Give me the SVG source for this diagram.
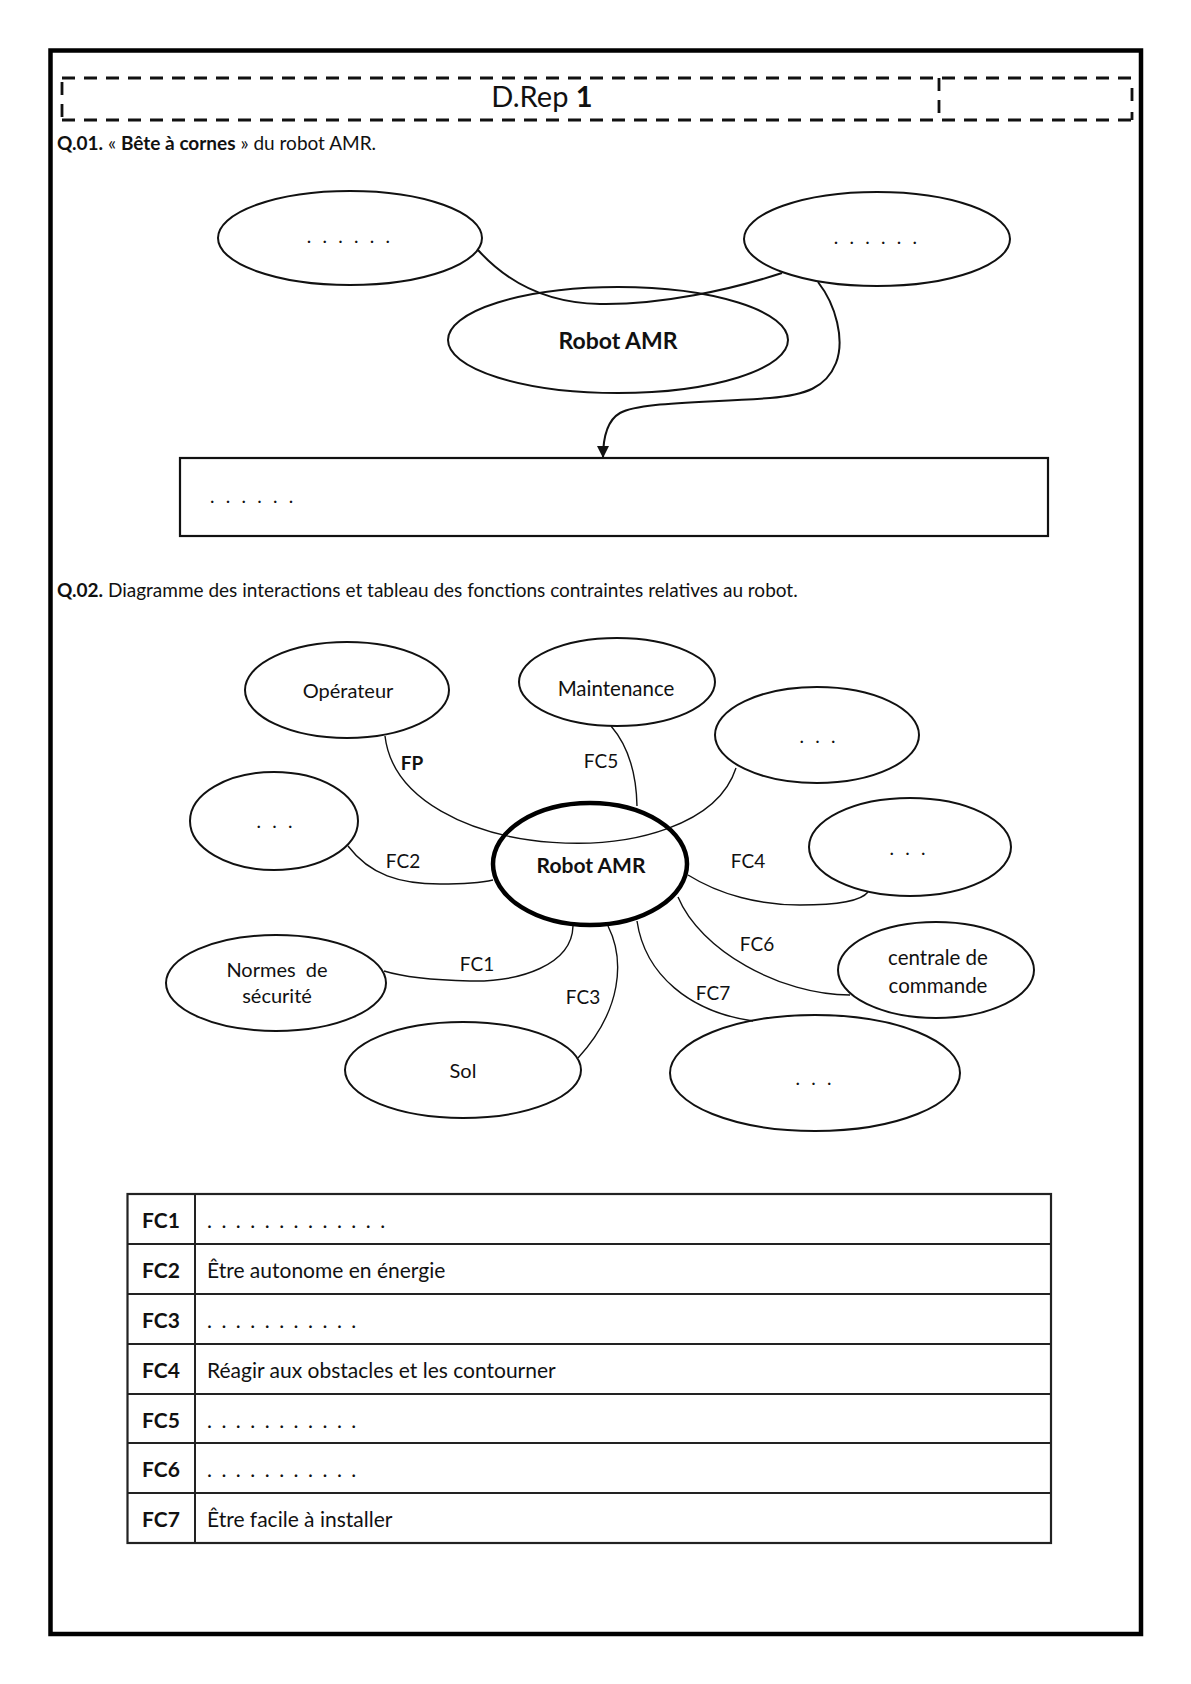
<svg xmlns="http://www.w3.org/2000/svg" width="1191" height="1684" viewBox="0 0 1191 1684">
<defs>
<style>
.t{font-family:Lato,"Open Sans","Liberation Sans",sans-serif;fill:#111}
.b{font-weight:bold}
.m{text-anchor:middle}
.e{fill:none;stroke:#111;stroke-width:2}
.c{fill:none;stroke:#111;stroke-width:1.4}
.c1{fill:none;stroke:#111;stroke-width:2}
.d{fill:none;stroke:#111;stroke-width:2.8;stroke-dasharray:13 9}
.g{fill:none;stroke:#222;stroke-width:2}
</style>
<marker id="ah" viewBox="0 0 12 12" refX="12" refY="6" markerWidth="12" markerHeight="12" markerUnits="userSpaceOnUse" orient="auto">
<path d="M0,0 L12,6 L0,12 Z" fill="#111"/>
</marker>
</defs>
<rect width="1191" height="1684" fill="#fff"/>
<rect x="50.5" y="50.5" width="1090.5" height="1583.5" fill="none" stroke="#000" stroke-width="4.5"/>

<g id="header">
<path class="d" d="M62,78 H1132 M62,120 H1132 M62,82 V120 M939,78 V120 M1132,88 V106 M1132,112 V120"/>
<text class="t m" x="542" y="107" font-size="29">D.Rep <tspan class="b">1</tspan></text>
</g>

<text class="t" x="57" y="150" font-size="19"><tspan class="b">Q.01.</tspan> « <tspan class="b">Bête à cornes</tspan> » du robot AMR.</text>

<g id="connectors-q01">
<path class="c1" d="M478,250 C505,280 545,303 600,304 C660,305 730,290 782,273"/>
<path class="c1" d="M818,282 C836,305 845,340 836,363 C826,388 805,395 770,398 C700,403 640,402 620,413 C606,421 603,440 603,458" marker-end="url(#ah)"/>
</g>

<g id="q01-left">
<ellipse class="e" cx="350" cy="238" rx="132" ry="47"/>
<text class="t m" x="350" y="243" font-size="19" letter-spacing="3.2">. . . . . .</text>
</g>
<g id="q01-right">
<ellipse class="e" cx="877" cy="239" rx="133" ry="47"/>
<text class="t m" x="877" y="244" font-size="19" letter-spacing="3.2">. . . . . .</text>
</g>
<g id="q01-robot">
<ellipse class="e" cx="618" cy="340" rx="170" ry="53"/>
<text class="t b m" x="618" y="349" font-size="23">Robot AMR</text>
</g>
<g id="q01-box">
<rect x="180" y="458" width="868" height="78" fill="none" stroke="#111" stroke-width="2.2"/>
<text class="t" x="210" y="503" font-size="19" letter-spacing="3.2">. . . . . .</text>
</g>

<text class="t" x="57" y="597" font-size="19"><tspan class="b">Q.02.</tspan> Diagramme des interactions et tableau des fonctions contraintes relatives au robot.</text>

<g id="connectors-q02">
<path class="c" d="M385,736 C400,865 700,880 736,768"/>
<path class="c" d="M611,726 Q636,755 637,806"/>
<path class="c" d="M348,846 C370,875 400,884 440,884 C465,884 480,883 493,880"/>
<path class="c" d="M688,875 C720,895 760,905 800,905 C840,905 862,900 868,892"/>
<path class="c" d="M573,926 C572,965 520,982 470,981 C430,980 400,976 384,971"/>
<path class="c" d="M608,926 C625,960 622,1010 578,1058"/>
<path class="c" d="M637,921 C645,975 690,1012 753,1021"/>
<path class="c" d="M678,897 C700,950 780,995 850,995"/>
</g>

<g id="labels-q02">
<text class="t b m" x="412" y="770" font-size="19">FP</text>
<text class="t m" x="601" y="768" font-size="19">FC5</text>
<text class="t m" x="403" y="868" font-size="19">FC2</text>
<text class="t m" x="748" y="868" font-size="19">FC4</text>
<text class="t m" x="477" y="971" font-size="19">FC1</text>
<text class="t m" x="583" y="1004" font-size="19">FC3</text>
<text class="t m" x="757" y="951" font-size="19">FC6</text>
<text class="t m" x="713" y="1000" font-size="19">FC7</text>
</g>

<g id="operateur">
<ellipse class="e" cx="347" cy="690" rx="102" ry="48"/>
<text class="t m" x="348" y="698" font-size="20">Opérateur</text>
</g>
<g id="maintenance">
<ellipse class="e" cx="617" cy="682" rx="98" ry="44"/>
<text class="t m" x="616" y="696" font-size="20.5">Maintenance</text>
</g>
<g id="ext-top-right">
<ellipse class="e" cx="817" cy="735" rx="102" ry="48"/>
<text class="t m" x="819" y="743" font-size="19" letter-spacing="3.2">. . .</text>
</g>
<g id="ext-left">
<ellipse class="e" cx="274" cy="821" rx="84" ry="49"/>
<text class="t m" x="276" y="828" font-size="19" letter-spacing="3.2">. . .</text>
</g>
<g id="robot">
<ellipse cx="590" cy="864" rx="97" ry="61" fill="none" stroke="#000" stroke-width="4.5"/>
<text class="t b m" x="591" y="873" font-size="21">Robot AMR</text>
</g>
<g id="ext-right">
<ellipse class="e" cx="910" cy="847" rx="101" ry="49"/>
<text class="t m" x="909" y="855" font-size="19" letter-spacing="3.2">. . .</text>
</g>
<g id="normes">
<ellipse class="e" cx="276" cy="983" rx="110" ry="48"/>
<text class="t m" x="277" y="977" font-size="20" xml:space="preserve">Normes  de</text>
<text class="t m" x="277" y="1003" font-size="20">sécurité</text>
</g>
<g id="centrale">
<ellipse class="e" cx="936" cy="970" rx="98" ry="48"/>
<text class="t m" x="938" y="965" font-size="20.5">centrale de</text>
<text class="t m" x="938" y="993" font-size="20.5">commande</text>
</g>
<g id="sol">
<ellipse class="e" cx="463" cy="1070" rx="118" ry="48"/>
<text class="t m" x="463" y="1078" font-size="20">Sol</text>
</g>
<g id="ext-bottom">
<ellipse class="e" cx="815" cy="1073" rx="145" ry="58"/>
<text class="t m" x="815" y="1085" font-size="19" letter-spacing="3.2">. . .</text>
</g>

<g id="table">
<rect x="127.5" y="1194" width="923.5" height="349" fill="none" stroke="#222" stroke-width="2.2"/>
<path class="g" d="M195,1194 V1543 M127.5,1244 H1051 M127.5,1294 H1051 M127.5,1344 H1051 M127.5,1394 H1051 M127.5,1443 H1051 M127.5,1493 H1051"/>
<g class="t b m" font-size="21">
<text x="161" y="1228">FC1</text>
<text x="161" y="1278">FC2</text>
<text x="161" y="1328">FC3</text>
<text x="161" y="1378">FC4</text>
<text x="161" y="1428">FC5</text>
<text x="161" y="1477">FC6</text>
<text x="161" y="1527">FC7</text>
</g>
<g class="t" font-size="21">
<text x="207" y="1228" letter-spacing="2.05">. . . . . . . . . . . . .</text>
<text x="207" y="1278">Être autonome en énergie</text>
<text x="207" y="1328" letter-spacing="2.05">. . . . . . . . . . .</text>
<text x="207" y="1378">Réagir aux obstacles et les contourner</text>
<text x="207" y="1428" letter-spacing="2.05">. . . . . . . . . . .</text>
<text x="207" y="1477" letter-spacing="2.05">. . . . . . . . . . .</text>
<text x="207" y="1527">Être facile à installer</text>
</g>
</g>
</svg>
